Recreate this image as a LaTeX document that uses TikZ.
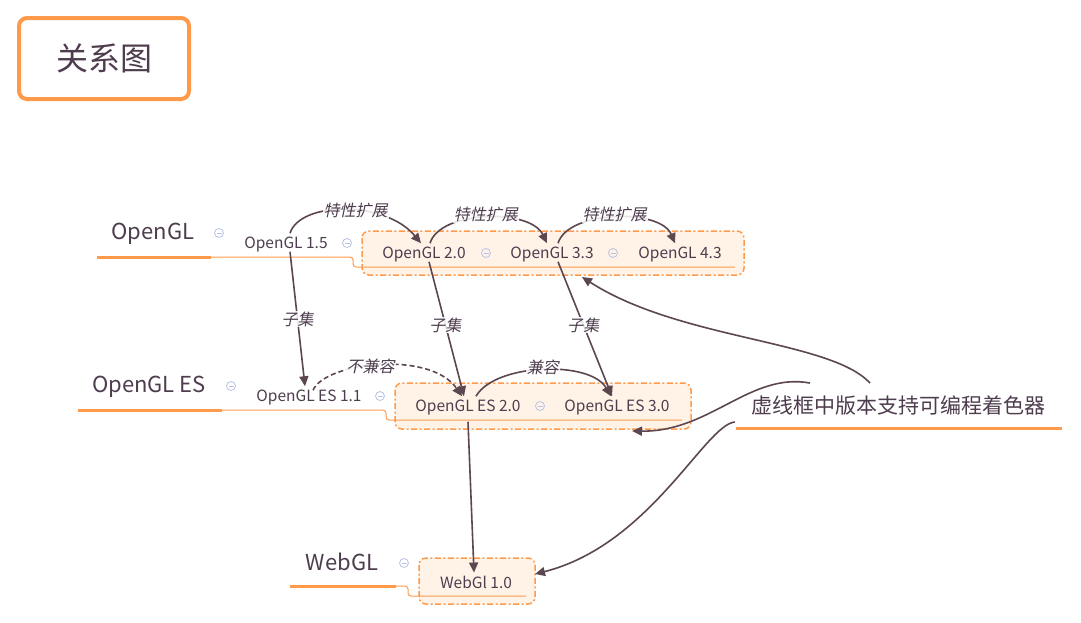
\documentclass[tikz,border=0pt]{standalone}
\usepackage{fontspec}
\setmainfont{Noto Sans CJK SC}
\newfontfamily\labfont[FakeSlant=0.2]{Noto Sans CJK SC}
\usetikzlibrary{arrows.meta,calc}
\definecolor{txt}{HTML}{4E3D4E}
\definecolor{ln}{HTML}{5C4750}
\definecolor{org}{HTML}{FF9A4A}
\definecolor{boxfill}{HTML}{FFF3E8}
\definecolor{iconc}{HTML}{B8C2E6}
\begin{document}
\begin{tikzpicture}[x=1pt,y=-1pt,
  topic/.style={text=txt,font=\fontsize{22}{26}\selectfont,inner sep=0pt},
  sub/.style={text=txt,font=\fontsize{15.5}{18}\selectfont,inner sep=0pt},
  lab/.style={text=txt,font=\labfont\fontsize{16}{19}\selectfont,fill=white,fill opacity=0.85,text opacity=1,inner sep=1pt},
  conn/.style={draw=ln,line width=1.6pt,-{Triangle[length=10pt,width=9pt]}},
  grp/.style={draw=org,line width=1.5pt,dash pattern=on 6pt off 2.5pt on 2pt off 2.5pt,rounded corners=7pt,fill=boxfill},
  ulthick/.style={draw=org,line width=3pt},
  ulthin/.style={draw=org,line width=1pt,rounded corners=3pt},
  collapse/.style={circle,draw=iconc,line width=0.8pt,minimum size=9pt,inner sep=0pt,
    path picture={\draw[iconc,line width=0.8pt] ([xshift=-2.5pt]path picture bounding box.center) -- ([xshift=2.5pt]path picture bounding box.center);}}
]
\useasboundingbox[fill=white] (0,0) rectangle (1081,622);

% title
\node[draw=org,line width=4pt,rounded corners=8pt,minimum width=170pt,minimum height=81pt,
  text=txt,font=\fontsize{32}{36}\selectfont] (title) at (104,58.5) {关系图};

% group boxes
\path[grp] (362,231) rectangle (744,275);
\path[grp] (395,383) rectangle (691,429);
\path[grp] (419,558) rectangle (535,604);

% tree lines
\draw[ulthin] (211,257) -- (353,257) -- (353,267) -- (735,267);
\draw[ulthin] (222,410) -- (386,410) -- (386,420) -- (682,420);
\draw[ulthin] (396,586) -- (408,586) -- (408,596) -- (526,596);
\draw[ulthick] (97,257) -- (211,257);
\draw[ulthick] (78,410) -- (222,410);
\draw[ulthick] (290,586) -- (396,586);
\draw[ulthick] (736,428) -- (1062,428);

% topics
\node[topic] (opengl) at (153,234) {OpenGL};
\node[topic] (opengles) at (149,387) {OpenGL ES};
\node[topic] (webgl) at (342,562) {WebGL};
\node[topic,font=\fontsize{21}{25}\selectfont] (note) at (898,405) {虚线框中版本支持可编程着色器};

% subtopics
\node[sub] (gl15) at (286,244) {OpenGL 1.5};
\node[sub] (gl20) at (424,254) {OpenGL 2.0};
\node[sub] (gl33) at (552,254) {OpenGL 3.3};
\node[sub] (gl43) at (680,254) {OpenGL 4.3};
\node[sub] (es11) at (309,397) {OpenGL ES 1.1};
\node[sub] (es20) at (468,407) {OpenGL ES 2.0};
\node[sub] (es30) at (617,407) {OpenGL ES 3.0};
\node[sub] (web10) at (476,582) {WebGl 1.0};

% collapse icons
\node[collapse] (c1) at (219,233) {};
\node[collapse] (c2) at (347,243) {};
\node[collapse] (c3) at (486,253) {};
\node[collapse] (c4) at (613,253) {};
\node[collapse] (c5) at (231,386) {};
\node[collapse] (c6) at (380,396) {};
\node[collapse] (c7) at (540,406) {};
\node[collapse] (c8) at (404,563) {};

% feature extension
\draw[conn] ([xshift=4pt]gl15.north) ++(0,-3) .. controls +(10,-32) and (385,200) .. ([xshift=-3pt,yshift=3pt]gl20.north)
  node[lab,pos=0.56] {特性扩展};
\draw[conn] ([xshift=6pt,yshift=3pt]gl20.north) .. controls +(10,-33) and (530,208) .. ([xshift=-5pt,yshift=3pt]gl33.north)
  node[lab,pos=0.5,yshift=3pt] {特性扩展};
\draw[conn] ([xshift=6pt,yshift=3pt]gl33.north) .. controls +(10,-33) and (660,208) .. ([xshift=-5pt,yshift=3pt]gl43.north)
  node[lab,pos=0.5,yshift=3pt] {特性扩展};

% subsets
\draw[conn] ([xshift=4pt]gl15.south) -- ([xshift=-4pt,yshift=3pt]es11.north) node[lab,pos=0.5] {子集};
\draw[conn] ([xshift=5pt]gl20.south) -- ([xshift=-4pt,yshift=3pt]es20.north) node[lab,pos=0.47] {子集};
\draw[conn] ([xshift=6pt]gl33.south) -- ([xshift=-5pt,yshift=3pt]es30.north) node[lab,pos=0.47] {子集};

% compatibility
\draw[conn,dash pattern=on 5pt off 3pt] ([xshift=4pt,yshift=-1pt]es11.north) .. controls +(12,-28) and (430,350) .. ([xshift=-6pt,yshift=3pt]es20.north)
  node[lab,pos=0.45] {不兼容};
\draw[conn] ([xshift=8pt,yshift=3pt]es20.north) .. controls +(19,-33) and (590,360) .. ([xshift=-6pt,yshift=3pt]es30.north)
  node[lab,pos=0.5,yshift=3pt] {兼容};

% ES 2.0 -> WebGL
\draw[conn] (es20.south) ++(0,7) -- ([xshift=-2pt,yshift=3pt]web10.north);

% note connectors
\draw[conn] ([xshift=-28pt,yshift=12pt]note.north) .. controls (830,340) and (680,340) .. (582,277);
\draw[conn] ([xshift=-88pt,yshift=12pt]note.north) .. controls (750,372) and (710,432) .. (632,431);
\draw[conn] (note.south west) ++(-16,7) .. controls (705,425) and (650,545) .. (535,574);
\end{tikzpicture}
\end{document}
